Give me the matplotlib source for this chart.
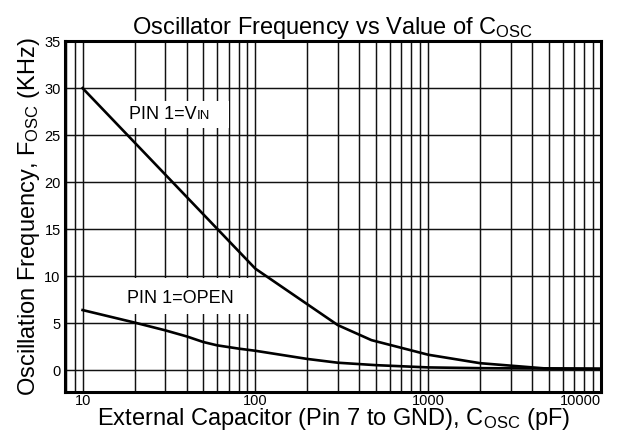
import numpy as np
import matplotlib.pyplot as plt
from matplotlib.patches import Rectangle

plt.rcParams['font.family'] = ['Liberation Sans', 'DejaVu Sans']
plt.rcParams['mathtext.fontset'] = 'custom'
plt.rcParams['mathtext.rm'] = 'Liberation Sans'

# curve values
cap_vin = [10, 100, 300, 470, 1000, 2000, 4700, 10000]
freq_vin = [30.0, 10.8, 4.8, 3.2, 1.65, 0.75, 0.2, 0.15]
cap_open = [10, 20, 30, 40, 50, 60, 80, 100, 200, 300, 500, 1000, 2000, 4700, 10000]
freq_open = [6.4, 5.07, 4.25, 3.6, 3.0, 2.65, 2.3, 2.07, 1.2, 0.8, 0.54, 0.3, 0.22, 0.18, 0.15]

xticks = [10, 100, 1000, 10000]
xlabels = ['10', '100', '1000', '10000']
yticks = [0, 5, 10, 15, 20, 25, 30, 35]

fig = plt.figure(figsize=(6.24, 4.33), dpi=100)
ax = fig.add_axes([0.104, 0.095, 0.859, 0.81])

ax.plot(cap_vin, freq_vin, color='black', lw=1.9, zorder=4)
ax.plot(cap_open, freq_open, color='black', lw=1.9, zorder=4)

ax.set_xscale('log')
ax.set_xlim(7.9, 10000)
ax.set_ylim(-2.3, 35)
ax.set_xticks(xticks)
ax.set_xticklabels(xlabels)
ax.set_yticks(yticks)
ax.xaxis.get_ticklabels()[-1].set_horizontalalignment('right')
ax.tick_params(axis='both', length=0, labelsize=10.5)
ax.tick_params(axis='x', pad=1.5)
ax.tick_params(axis='y', pad=3)

ax.grid(True, which='major', color='#111111', lw=1.05)
ax.grid(True, which='minor', axis='x', color='#111111', lw=1.05)
ax.tick_params(which='minor', length=0)
ax.set_axisbelow(True)
for s in ax.spines.values():
    s.set_linewidth(2.2)

# label boxes hiding the grid
ax.add_patch(Rectangle((0.112, 0.752), 0.194, 0.077, transform=ax.transAxes,
                       facecolor='white', edgecolor='none', zorder=2))
ax.add_patch(Rectangle((0.103, 0.222), 0.246, 0.103, transform=ax.transAxes,
                       facecolor='white', edgecolor='none', zorder=2))

t = ax.text(0.119, 0.79, 'PIN 1=V', transform=ax.transAxes, fontsize=13,
            va='center', ha='left', zorder=3)
ax.annotate('IN', xy=(1, 0), xycoords=t, xytext=(0.3, 1.0),
            textcoords='offset points', fontsize=9.5, va='bottom', ha='left',
            zorder=3)
ax.text(0.115, 0.266, 'PIN 1=OPEN', transform=ax.transAxes, fontsize=13,
        va='center', ha='left', zorder=3)

ax.set_title(r'Oscillator Frequency vs Value of $\mathregular{C_{OSC}}$',
             fontsize=17, pad=3)
fig.text(0.534, 0.018, r'External Capacitor (Pin 7 to GND), $\mathregular{C_{OSC}}$ (pF)',
         fontsize=17, ha='center', va='baseline')
ax.set_ylabel(r'Oscillation Frequency, $\mathregular{F_{OSC}}$ (KHz)',
              fontsize=17, labelpad=2)

fig.savefig('out.png', dpi=100)
